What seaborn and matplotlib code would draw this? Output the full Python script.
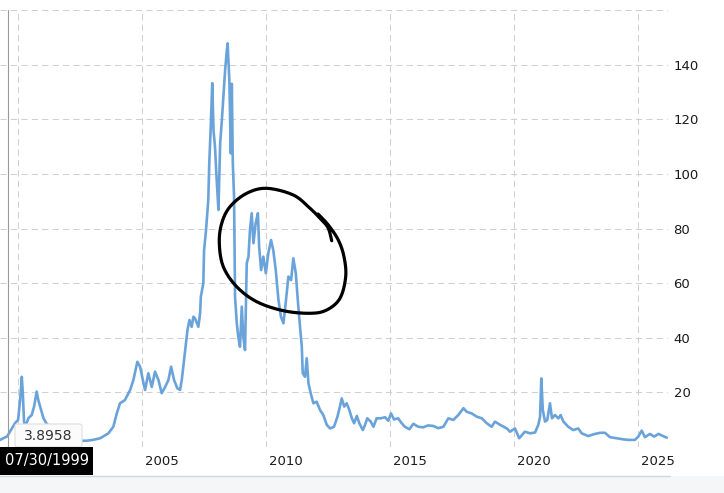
import numpy as np
import pandas as pd
import matplotlib
matplotlib.use("Agg")
import matplotlib.pyplot as plt
from matplotlib.lines import Line2D
from matplotlib.patches import Rectangle, FancyBboxPatch
from matplotlib.transforms import ScaledTranslation
import seaborn as sns

# price series (decimal year, price)
years = [
    1999.27, 1999.56, 1999.88, 2000.00, 2000.08, 2000.15, 2000.19, 2000.24, 2000.28, 2000.42,
    2000.55, 2000.65, 2000.75, 2000.82, 2000.89, 2001.02, 2001.13, 2001.49, 2001.90, 2002.30,
    2002.57, 2002.77, 2003.02, 2003.31, 2003.64, 2003.84, 2003.98, 2004.11, 2004.31, 2004.52,
    2004.65, 2004.81, 2004.92, 2005.03, 2005.12, 2005.25, 2005.39, 2005.52, 2005.66, 2005.79,
    2005.93, 2006.06, 2006.17, 2006.29, 2006.42, 2006.53, 2006.60, 2006.73, 2006.83, 2006.91,
    2007.00, 2007.07, 2007.14, 2007.27, 2007.34, 2007.37, 2007.47, 2007.50, 2007.58, 2007.67,
    2007.71, 2007.77, 2007.83, 2007.88, 2007.94, 2008.01, 2008.08, 2008.15, 2008.21, 2008.28,
    2008.35, 2008.42, 2008.45, 2008.52, 2008.58, 2008.62, 2008.66, 2008.71, 2008.75, 2008.82,
    2008.88, 2008.95, 2009.02, 2009.08, 2009.15, 2009.22, 2009.29, 2009.35, 2009.42, 2009.49,
    2009.58, 2009.67, 2009.72, 2009.80, 2009.89, 2009.99, 2010.09, 2010.20, 2010.29, 2010.39,
    2010.50, 2010.60, 2010.70, 2010.79, 2010.90, 2011.01, 2011.10, 2011.20, 2011.28, 2011.37,
    2011.44, 2011.48, 2011.57, 2011.64, 2011.71, 2011.80, 2011.91, 2012.04, 2012.18, 2012.31,
    2012.45, 2012.58, 2012.74, 2012.88, 2012.98, 2013.05, 2013.15, 2013.25, 2013.36, 2013.46,
    2013.55, 2013.66, 2013.76, 2013.90, 2013.99, 2014.08, 2014.22, 2014.33, 2014.46, 2014.63,
    2014.80, 2014.93, 2015.04, 2015.16, 2015.33, 2015.47, 2015.60, 2015.78, 2015.94, 2016.14,
    2016.34, 2016.53, 2016.75, 2016.94, 2017.15, 2017.35, 2017.55, 2017.75, 2017.96, 2018.09,
    2018.29, 2018.50, 2018.70, 2018.90, 2019.10, 2019.23, 2019.44, 2019.71, 2019.84, 2020.04,
    2020.21, 2020.44, 2020.65, 2020.85, 2020.98, 2021.05, 2021.10, 2021.16, 2021.25, 2021.34,
    2021.45, 2021.53, 2021.65, 2021.79, 2021.88, 2021.99, 2022.19, 2022.39, 2022.59, 2022.73,
    2022.99, 2023.27, 2023.47, 2023.67, 2023.87, 2024.14, 2024.41, 2024.61, 2024.88, 2025.01,
    2025.15, 2025.28, 2025.48, 2025.65, 2025.82, 2026.02, 2026.16,
]
prices = [
    2.6, 3.9, 8.8, 9.9, 17.0, 25.7, 19.8, 9.3, 7.3, 10.6,
    11.7, 15.0, 20.3, 17.0, 14.8, 10.6, 8.8, 5.0, 3.2, 2.5,
    2.3, 2.3, 2.6, 3.2, 5.0, 7.4, 12.3, 16.0, 17.2, 20.9,
    24.5, 31.2, 29.4, 24.5, 20.9, 27.0, 22.0, 27.6, 24.5, 19.7,
    22.0, 24.5, 29.4, 24.5, 21.5, 20.9, 24.5, 35.0, 42.8, 46.5,
    44.0, 47.7, 47.0, 44.0, 49.0, 55.0, 60.0, 72.0, 79.5, 90.4,
    103.9, 117.3, 133.2, 116.0, 110.0, 97.8, 86.8, 111.2, 118.5, 128.3,
    138.0, 145.4, 147.8, 134.4, 107.5, 133.0, 104.0, 91.7, 55.0, 45.3,
    40.4, 36.7, 51.4, 40.4, 35.5, 67.3, 69.7, 79.5, 85.6, 74.6,
    81.9, 85.6, 73.3, 64.8, 69.7, 63.6, 70.9, 75.8, 72.1, 64.8,
    53.8, 47.7, 45.3, 52.6, 62.4, 61.1, 69.1, 63.6, 53.8, 44.0,
    37.0, 27.0, 25.7, 32.5, 23.3, 19.7, 16.0, 16.6, 13.5, 11.7,
    8.1, 6.8, 7.4, 11.1, 14.8, 17.8, 14.8, 16.0, 13.5, 10.5,
    8.7, 11.4, 8.7, 6.2, 8.1, 10.5, 9.3, 7.4, 10.5, 10.5,
    10.9, 9.6, 12.3, 10.1, 10.5, 8.7, 7.4, 6.5, 8.5, 7.4,
    7.2, 7.9, 7.7, 6.9, 7.4, 10.5, 9.9, 11.7, 14.2, 12.9,
    12.3, 11.1, 10.5, 8.7, 7.4, 9.3, 8.1, 6.8, 5.6, 6.8,
    3.2, 5.6, 5.0, 5.3, 8.1, 11.1, 25.1, 13.5, 9.3, 9.9,
    16.0, 10.5, 11.7, 10.5, 11.7, 9.3, 7.4, 6.2, 6.8, 5.0,
    4.0, 4.8, 5.2, 5.2, 3.6, 3.2, 2.8, 2.6, 2.6, 3.8,
    6.0, 3.6, 4.8, 3.8, 4.8, 4.0, 3.4,
]
tick_years = [2000, 2005, 2010, 2015, 2020, 2025]
y_ticks = [0, 20, 40, 60, 80, 100, 120, 140, 160]
cursor_year = 1999.58
cursor_label = "07/30/1999"
cursor_value = "3.8958"

W, H = 724, 493
LINE_COLOR = "#6aa3da"


def to_date(y):
    yr = int(y)
    return pd.Timestamp(yr, 1, 1) + pd.Timedelta(days=(y - yr) * 365.25)


def px(x, y):
    return x / W, 1 - y / H


def catmull(pts, n=12):
    pts = np.asarray(pts, float)
    pts = np.vstack([pts[0], pts, pts[-1]])
    out = []
    for i in range(1, len(pts) - 2):
        p0, p1, p2, p3 = pts[i - 1], pts[i], pts[i + 1], pts[i + 2]
        for t in np.linspace(0, 1, n, endpoint=False):
            out.append(0.5 * (2 * p1 + (-p0 + p2) * t
                              + (2 * p0 - 5 * p1 + 4 * p2 - p3) * t ** 2
                              + (-p0 + 3 * p1 - 3 * p2 + p3) * t ** 3))
    out.append(pts[-2])
    return np.array(out)


sns.set_style("white")
plt.rcParams["font.family"] = ["DejaVu Sans"]

fig = plt.figure(figsize=(W / 100, H / 100), dpi=100)
ax = fig.add_axes([0, (H - 447) / H, 668 / W, (447 - 10) / H])

df = pd.DataFrame({"date": [to_date(y) for y in years], "price": prices})
sns.lineplot(data=df, x="date", y="price", ax=ax, color=LINE_COLOR, linewidth=1.9, zorder=3)

ax.set_xlim(to_date(1999.27), to_date(2026.21))
ax.set_ylim(0, 160)
ax.set_xlabel("")
ax.set_ylabel("")
for s in ax.spines.values():
    s.set_visible(False)

ax.yaxis.tick_right()
ax.set_yticks(y_ticks)
ax.set_yticklabels(["" if v in (0, 160) else str(v) for v in y_ticks])
# 2000 sits under the cursor date box, so it gets no label
ax.set_xticks([to_date(y) for y in tick_years])
ax.set_xticklabels(["" if y == 2000 else str(y) for y in tick_years])
ax.tick_params(length=0, labelsize=9.5, labelcolor="#1a1a1a")
ax.tick_params(axis="y", pad=4)
ax.tick_params(axis="x", pad=6)
for lbl in ax.get_xticklabels():
    lbl.set_horizontalalignment("left")
    lbl.set_transform(lbl.get_transform() + ScaledTranslation(3 / 100, 0, fig.dpi_scale_trans))

ax.grid(True, color="#d0d0d0", linestyle=(0, (6, 4)), linewidth=0.75, zorder=0)
ax.set_axisbelow(True)

# cursor line
ax.axvline(to_date(cursor_year), color="#9a9a9a", linewidth=0.8, zorder=4)

# bottom band
fig.add_artist(Rectangle((0, 0), 1, (H - 476) / H, transform=fig.transFigure,
                         facecolor="#f5f6f8", edgecolor="none", zorder=1))
fig.add_artist(Line2D([0, 670 / W], [(H - 475.5) / H] * 2, transform=fig.transFigure,
                      color="#d6d6d6", linewidth=1, zorder=2))

# tooltip
x0, y0 = px(15, 447)
x1, y1 = px(82, 424)
fig.add_artist(FancyBboxPatch((x0, y0), x1 - x0, y1 - y0, boxstyle="round,pad=0,rounding_size=0.004",
                              transform=fig.transFigure, facecolor="#fbfbfb",
                              edgecolor="#dedede", linewidth=0.8, zorder=5))
fig.text(*px(48, 436), cursor_value, ha="center", va="center", fontsize=10,
         color="#333333", zorder=6)

# date box
x0, y0 = px(0, 475)
x1, y1 = px(93, 447)
fig.add_artist(Rectangle((x0, y0), x1 - x0, y1 - y0, transform=fig.transFigure,
                         facecolor="black", edgecolor="none", zorder=5))
fig.text(*px(46.5, 461), cursor_label, ha="center", va="center", fontsize=10.5,
         color="white", zorder=6)

# hand drawn circle
loop = [(331.7, 240.7), (328.3, 228.3), (321.7, 220), (310, 208.3), (293.3, 195),
        (266.7, 188.3), (246.7, 193.3), (230, 206.7), (221.7, 223.3), (219.3, 243.3),
        (223.3, 266.7), (236.7, 286.7), (256.7, 301.7), (283.3, 310.7), (310, 313.3),
        (326.7, 310), (340, 298.3), (345.7, 276.7), (344, 256.7), (338.3, 240),
        (328.3, 225), (318, 214)]
c = catmull(loop)
fig.add_artist(Line2D(c[:, 0] / W, 1 - c[:, 1] / H, transform=fig.transFigure,
                      color="black", linewidth=2.3, solid_capstyle="round",
                      solid_joinstyle="round", zorder=7))

fig.savefig("out.png", dpi=100)
